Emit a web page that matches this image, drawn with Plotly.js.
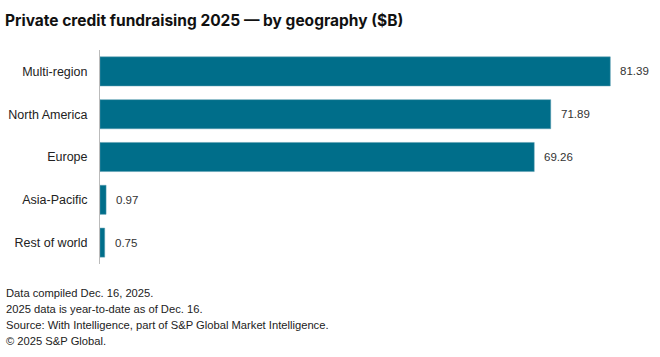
<!DOCTYPE html>
<html>
<head>
<meta charset="utf-8">
<script src="https://cdn.plot.ly/plotly-3.0.1.min.js"></script>
<style>html,body{margin:0;padding:0;background:#fff;}#chart{width:660px;height:357px;}</style>
</head>
<body>
<div id="chart"></div>
<script>
const categories = ["Multi-region", "North America", "Europe", "Asia-Pacific", "Rest of world"];
const values = [81.39, 71.89, 69.26, 0.97, 0.75];
const valueLabels = ["81.39", "71.89", "69.26", "0.97", "0.75"];
const titleText = "Private credit fundraising 2025 — by geography ($B)";
const notes = [
  "Data compiled Dec. 16, 2025.",
  "2025 data is year-to-date as of Dec. 16.",
  "Source: With Intelligence, part of S&P Global Market Intelligence.",
  "© 2025 S&P Global."
];

const W = 660, H = 357;
const font = "Liberation Sans, Arial, sans-serif";
const plotTop = 50, plotBottom = 264, plotLeft = 100, plotRight = 658;

const trace = {
  type: "bar",
  orientation: "h",
  y: categories,
  x: values,
  marker: {color: "#006E8A", line: {color: "#5b9db0", width: 0.5}},
  hoverinfo: "none"
};

const valueAnnotations = categories.map((c, i) => ({
  x: values[i], y: c, xref: "x", yref: "y",
  text: valueLabels[i], showarrow: false,
  xanchor: "left", yanchor: "middle", xshift: 8,
  font: {family: font, size: 11.5, color: "#333"}
}));

const noteAnnotations = notes.map((t, i) => ({
  text: t, xref: "paper", yref: "paper",
  x: (4 - plotLeft) / (plotRight - plotLeft), xanchor: "left",
  y: 1 - (293 + 16 * i - plotTop) / (plotBottom - plotTop), yanchor: "middle",
  showarrow: false, align: "left",
  font: {family: font, size: 11.2, color: "#222"}
}));

const layout = {
  width: W, height: H,
  margin: {l: plotLeft, r: W - plotRight, t: plotTop, b: H - plotBottom},
  paper_bgcolor: "#fff", plot_bgcolor: "#fff",
  bargap: 0.32,
  showlegend: false,
  title: {text: "<b>" + titleText + "</b>", x: 5 / W, xanchor: "left", xref: "container",
          y: 1 - 21 / H, yanchor: "middle", yref: "container",
          font: {family: "Inter, sans-serif", size: 15.5, color: "#111"}},
  xaxis: {range: [0, 89], visible: false, fixedrange: true},
  yaxis: {autorange: "reversed", showgrid: false, zeroline: false,
          showline: true, linecolor: "#bbb", linewidth: 1,
          ticks: "", ticklabelstandoff: 9,
          tickfont: {family: font, size: 12.5, color: "#222"}},
  annotations: valueAnnotations.concat(noteAnnotations)
};

Plotly.newPlot("chart", [trace], layout, {displayModeBar: false, staticPlot: true});
</script>
</body>
</html>
